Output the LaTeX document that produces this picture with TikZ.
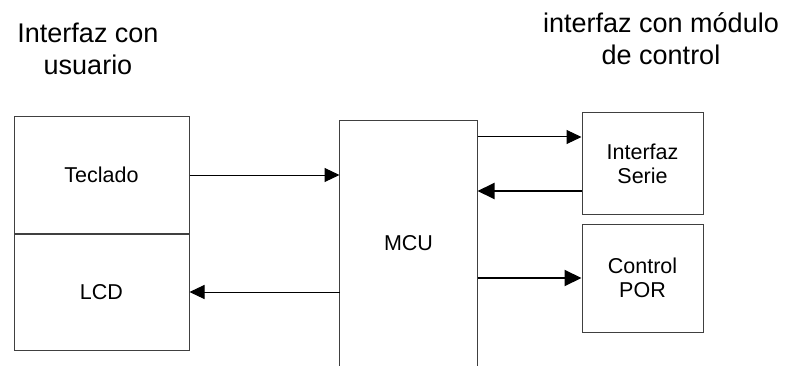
\documentclass[tikz,border=0pt]{standalone}
\usepackage{fontspec}
\setmainfont{Liberation Sans}
\usetikzlibrary{arrows.meta,positioning,calc}

\begin{document}
\begin{tikzpicture}[x=1pt,y=-1pt,{block/.style={rectangle,draw=black!75,line width=1pt,inner sep=0pt,align=center,font=\fontsize{21.5}{24}\selectfont}},{title/.style={align=center,font=\fontsize{27}{32}\selectfont}},{link/.style={-{Triangle[length=15pt,width=14pt]},line width=1pt}},{link2/.style={-{Triangle[length=17pt,width=16pt]},line width=2pt}}]
	%%frame
	\useasboundingbox (0,0) rectangle (786,366);
	%%titles
	\node[title] (user) at (88,49) {Interfaz con\\usuario};
	\node[title] (ctrl) at (661,38.5) {interfaz con m\'odulo\\de control};
	%%user side
	\node[block,minimum width=175pt,minimum height=116pt] (teclado) at (101.5,175) {Teclado};
	\node[block,minimum width=175pt,minimum height=116pt,below=0pt of teclado] (lcd) {LCD};
	%%MCU, open at the bottom
	\node[block,draw=none,minimum width=137pt,minimum height=245pt] (mcu) at (408.5,243.5) {MCU};
	\draw[black!75,line width=1pt] (mcu.south west) -- (mcu.north west) -- (mcu.north east) -- (mcu.south east);
	%%control side
	\node[block,minimum width=121pt,minimum height=101pt] (serie) at (642.5,163.5) {Interfaz\\Serie};
	\node[block,minimum width=121pt,minimum height=108pt,below=9pt of serie] (por) {Control\\POR};
	\coordinate (sin) at ($(serie.west)+(0,-26.5)$);
	\coordinate (sout) at ($(serie.west)+(0,27.5)$);
	%%links
	\draw[link] (teclado.east) -- (teclado.east -| mcu.west);
	\draw[link] (lcd.east -| mcu.west) -- (lcd.east);
	\draw[link] (sin -| mcu.east) -- (sin);
	\draw[link2] (sout) -- (sout -| mcu.east);
	\draw[link2] (por.west -| mcu.east) -- (por.west);
\end{tikzpicture}
\end{document}
